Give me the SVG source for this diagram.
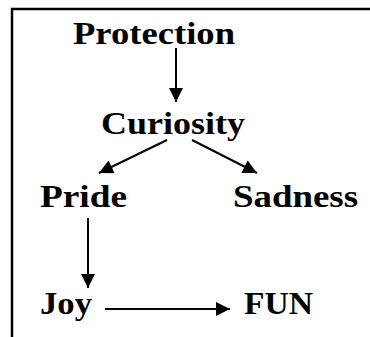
<svg xmlns="http://www.w3.org/2000/svg" width="370" height="337" viewBox="0 0 370 337">
<defs>
<marker id="ah" viewBox="0 0 10 10" refX="10" refY="5" markerWidth="16" markerHeight="14" markerUnits="userSpaceOnUse" orient="auto">
<path d="M0,0 L10,5 L0,10 Z" fill="#000"/>
</marker>
</defs>
<style>
.t{font-family:"Liberation Serif","Times New Roman",serif;font-weight:bold;font-size:32px;fill:#000}
.c{stroke:#000;stroke-width:2;fill:none}
</style>
<rect width="370" height="337" fill="#fff"/>
<path d="M12,337 L12,9 L370,9" stroke="#000" stroke-width="2.5" fill="none"/>
<g id="protection"><text class="t" x="73" y="44" textLength="162" lengthAdjust="spacingAndGlyphs">Protection</text></g>
<g id="curiosity"><text class="t" x="101" y="134" textLength="144" lengthAdjust="spacingAndGlyphs">Curiosity</text></g>
<g id="pride"><text class="t" x="40" y="207" textLength="87" lengthAdjust="spacingAndGlyphs">Pride</text></g>
<g id="sadness"><text class="t" x="233" y="207" textLength="125" lengthAdjust="spacingAndGlyphs">Sadness</text></g>
<g id="joy"><text class="t" x="40" y="314" textLength="52" lengthAdjust="spacingAndGlyphs">Joy</text></g>
<g id="fun"><text class="t" x="244" y="314" textLength="69" lengthAdjust="spacingAndGlyphs">FUN</text></g>
<g id="connectors">
<line class="c" x1="176" y1="48" x2="176" y2="102" marker-end="url(#ah)"/>
<line class="c" x1="167" y1="140" x2="99" y2="173" marker-end="url(#ah)"/>
<line class="c" x1="192" y1="140" x2="257" y2="173" marker-end="url(#ah)"/>
<line class="c" x1="88" y1="218" x2="88" y2="288" marker-end="url(#ah)"/>
<line class="c" x1="105" y1="309" x2="230" y2="309" marker-end="url(#ah)"/>
</g>
</svg>
